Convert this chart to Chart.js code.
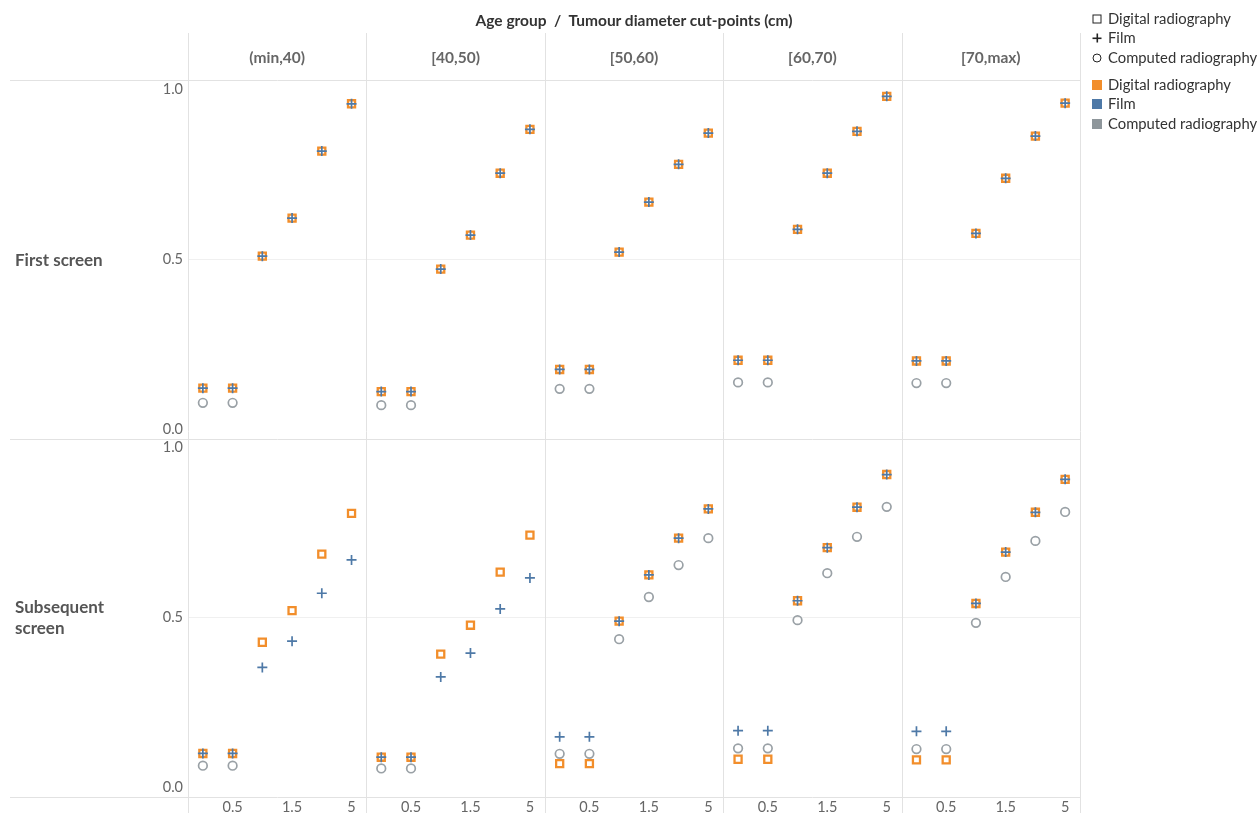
<!DOCTYPE html>
<html><head><meta charset="utf-8">
<script src="https://cdn.jsdelivr.net/npm/chart.js@4.4.1/dist/chart.umd.min.js"></script>
<style>
html,body{margin:0;padding:0;background:#fff;overflow:hidden;width:1259px;height:813px;font-family:Lato,"Open Sans",sans-serif;}
#wrap{position:relative;width:1259px;height:813px;overflow:hidden;}
#c{position:absolute;left:0;top:0;}
.t{position:absolute;white-space:nowrap;}
.title{font-weight:bold;font-size:15.5px;color:#333;left:634px;top:20px;transform:translate(-50%,-50%);}
.col{font-weight:bold;font-size:15.5px;color:#666;top:57px;transform:translate(-50%,-50%);}
.row{font-weight:bold;font-size:17px;color:#555;left:15px;line-height:21px;transform:translateY(-50%);}
.leg{font-size:14.8px;color:#333;left:1108px;transform:translateY(-50%);}
.sym{position:absolute;transform:translate(-50%,-50%);box-sizing:border-box;}
</style></head>
<body><div id="wrap"><canvas id="c" width="1259" height="830" style="width:1259px;height:830px"></canvas></div>
<script>
// ---- data ----
const groups = ['(min,40)', '[40,50)', '[50,60)', '[60,70)', '[70,max)'];
const cutPoints = ['0', '0.5', '1', '1.5', '2', '5'];
const tickLabels = ['0.5', '1.5', '5'];
const yTicks = [0, 0.5, 1];
const rowLabels = ['First screen', 'Subsequent screen'];
const seriesNames = ['Digital radiography', 'Film', 'Computed radiography'];

const digitalFirst = [
  [0.121, 0.121, 0.509, 0.621, 0.818, 0.957],
  [0.111, 0.111, 0.471, 0.571, 0.753, 0.882],
  [0.176, 0.176, 0.521, 0.668, 0.779, 0.871],
  [0.203, 0.203, 0.588, 0.753, 0.876, 0.979],
  [0.201, 0.201, 0.576, 0.738, 0.862, 0.959]
];
const filmFirst = [
  [0.121, 0.121, 0.509, 0.621, 0.818, 0.957],
  [0.111, 0.111, 0.471, 0.571, 0.753, 0.882],
  [0.176, 0.176, 0.521, 0.668, 0.779, 0.871],
  [0.203, 0.203, 0.588, 0.753, 0.876, 0.979],
  [0.201, 0.201, 0.576, 0.738, 0.862, 0.959]
];
const computedFirst = [
  [0.078, 0.078, null, null, null, null],
  [0.071, 0.071, null, null, null, null],
  [0.119, 0.119, null, null, null, null],
  [0.138, 0.138, null, null, null, null],
  [0.136, 0.136, null, null, null, null]
];
const digitalSubsequent = [
  [0.099, 0.099, 0.426, 0.519, 0.685, 0.805],
  [0.088, 0.088, 0.391, 0.476, 0.632, 0.741],
  [0.069, 0.069, 0.488, 0.624, 0.732, 0.818],
  [0.082, 0.082, 0.548, 0.704, 0.823, 0.919],
  [0.080, 0.080, 0.540, 0.691, 0.808, 0.905]
];
const filmSubsequent = [
  [0.099, 0.099, 0.352, 0.429, 0.570, 0.668],
  [0.088, 0.088, 0.324, 0.394, 0.524, 0.615],
  [0.148, 0.148, 0.488, 0.624, 0.732, 0.818],
  [0.166, 0.166, 0.548, 0.704, 0.823, 0.919],
  [0.164, 0.164, 0.540, 0.691, 0.808, 0.905]
];
const computedSubsequent = [
  [0.063, 0.063, null, null, null, null],
  [0.055, 0.055, null, null, null, null],
  [0.098, 0.098, 0.435, 0.559, 0.653, 0.732],
  [0.114, 0.114, 0.491, 0.629, 0.736, 0.824],
  [0.112, 0.112, 0.483, 0.618, 0.724, 0.809]
];

// ---- styles ----
const ORANGE = '#f28e2b', BLUE = '#4e79a7', GRAY = '#9aa1a6', LEGGRAY = '#8e969b';
const LINE = '#e2e2e2';
const FONT = 'Lato, "Open Sans", sans-serif';

const labels = groups.flatMap(() => cutPoints);
function mk(label, arr, axis, kind) {
  const base = { label, data: arr.flat(), yAxisID: axis, showLine: false, backgroundColor: 'rgba(0,0,0,0)' };
  if (kind === 0) return Object.assign(base, { pointStyle: 'rect', pointRadius: 5, pointHoverRadius: 5, borderColor: ORANGE, pointBorderColor: ORANGE, pointBorderWidth: 2.3, order: 1 });
  if (kind === 1) return Object.assign(base, { pointStyle: 'cross', pointRadius: 5, pointHoverRadius: 5, borderColor: BLUE, pointBorderColor: BLUE, pointBorderWidth: 1.7, order: 0 });
  return Object.assign(base, { pointStyle: 'circle', pointRadius: 4.3, pointHoverRadius: 4.3, borderColor: GRAY, pointBorderColor: GRAY, pointBorderWidth: 1.7, order: 2 });
}

const frame = {
  id: 'frame',
  beforeDatasetsDraw(chart) {
    const { ctx, chartArea: a } = chart;
    const mid = chart.scales.yTop.bottom;
    ctx.save();
    ctx.strokeStyle = LINE; ctx.lineWidth = 1;
    ctx.beginPath();
    for (let g = 0; g <= groups.length; g++) {
      const px = Math.round(a.left + (a.right - a.left) * g / groups.length) + 0.5;
      ctx.moveTo(px, 33); ctx.lineTo(px, chart.height);
    }
    [a.top, mid, a.bottom].forEach(y => {
      const py = Math.round(y) + 0.5;
      ctx.moveTo(10, py); ctx.lineTo(a.right, py);
    });
    ctx.stroke();
    ctx.restore();
  }
};

function yScale(min, max) {
  return {
    type: 'linear', position: 'left', stack: 'rows', stackWeight: 1, min, max,
    afterBuildTicks: s => { s.ticks = yTicks.map(v => ({ value: v })); },
    afterFit: s => { s.width = 188; },
    ticks: { padding: 5, color: '#666', font: { family: FONT, size: 14.5 }, callback: v => Number(v).toFixed(1) },
    grid: { drawTicks: false, color: c => (c.tick && c.tick.value === 0.5) ? '#f0f0f0' : 'rgba(0,0,0,0)' },
    border: { display: false }
  };
}

const chart = new Chart(document.getElementById('c'), {
  type: 'line',
  data: {
    labels,
    datasets: [
      mk(seriesNames[0], digitalFirst, 'yTop', 0),
      mk(seriesNames[1], filmFirst, 'yTop', 1),
      mk(seriesNames[2], computedFirst, 'yTop', 2),
      mk(seriesNames[0], digitalSubsequent, 'yBottom', 0),
      mk(seriesNames[1], filmSubsequent, 'yBottom', 1),
      mk(seriesNames[2], computedSubsequent, 'yBottom', 2)
    ]
  },
  options: {
    responsive: false, animation: false,
    layout: { padding: { left: 0, top: 80, right: 179, bottom: 0 } },
    plugins: { legend: { display: false }, tooltip: { enabled: false } },
    scales: {
      x: {
        type: 'category', offset: true,
        afterFit: s => { s.height = 33; },
        ticks: { autoSkip: false, maxRotation: 0, padding: 2, color: '#666', font: { family: FONT, size: 14.5 },
          callback: (v, i) => tickLabels.includes(cutPoints[i % cutPoints.length]) ? cutPoints[i % cutPoints.length] : '' },
        grid: { display: false, drawTicks: false },
        border: { display: false }
      },
      yBottom: yScale(-0.029, 1.025),
      yTop: yScale(-0.027, 1.027)
    }
  },
  plugins: [frame]
});

// ---- text overlays ----
const wrap = document.getElementById('wrap');
function add(cls, html, style) {
  const d = document.createElement('div');
  d.className = 't ' + cls; d.innerHTML = html;
  Object.assign(d.style, style || {});
  wrap.appendChild(d); return d;
}
add('title', 'Age group&nbsp; /&nbsp; Tumour diameter cut-points (cm)');
const A = chart.chartArea;
groups.forEach((g, i) => {
  add('col', g, { left: (A.left + (A.right - A.left) * (i + 0.5) / groups.length) + 'px' });
});
add('row', rowLabels[0], { top: chart.scales.yTop.getPixelForValue(0.5) + 'px' });
add('row', 'Subsequent<br>screen', { top: chart.scales.yBottom.getPixelForValue(0.5) + 'px' });

const legY = [18, 37, 57, 84, 103, 123];
const legText = [seriesNames[0], seriesNames[1], seriesNames[2], seriesNames[0], seriesNames[1], seriesNames[2]];
legText.forEach((t, i) => add('leg', t, { top: legY[i] + 'px' }));
function sym(i, style) {
  const d = document.createElement('div');
  d.className = 'sym';
  Object.assign(d.style, { left: '1097px', top: (legY[i] + 1) + 'px' }, style);
  wrap.appendChild(d);
}
sym(0, { width: '9px', height: '9px', border: '1.6px solid #222' });
sym(1, { width: '9px', height: '9px', background: 'linear-gradient(#222,#222) center/100% 1.6px no-repeat, linear-gradient(#222,#222) center/1.6px 100% no-repeat' });
sym(2, { width: '9px', height: '9px', border: '1.6px solid #222', borderRadius: '50%' });
sym(3, { width: '10px', height: '10px', background: ORANGE });
sym(4, { width: '10px', height: '10px', background: BLUE });
sym(5, { width: '10px', height: '10px', background: LEGGRAY });
</script>
</body></html>
